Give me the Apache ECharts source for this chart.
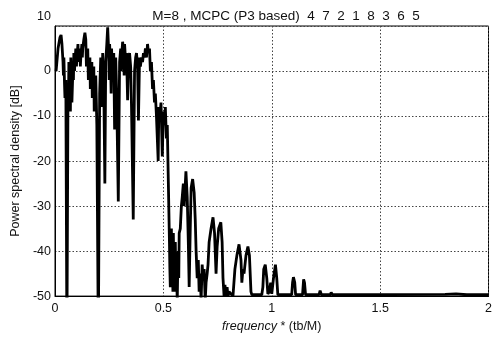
<!DOCTYPE html>
<html><head><meta charset="utf-8">
<script src="https://cdn.jsdelivr.net/npm/echarts@6/dist/echarts.min.js"></script>
<style>html,body{margin:0;padding:0;background:#fff}#c{width:495px;height:338px}</style>
</head><body><div id="c"></div>
<script>
// Title / axis text
var titleText = 'M=8 , MCPC (P3 based)  4  7  2  1  8  3  6  5';
var xTicks = [0, 0.5, 1, 1.5, 2];
var yTicks = [-50, -40, -30, -20, -10, 0, 10];

// Spectrum, band 0 - 0.5 : [frequency, dB]
var band1 = [
[0.005,0],[0.014,5],[0.023,7.5],[0.028,8],[0.032,6],[0.037,2],[0.039,-1],[0.041,3],[0.044,-3],[0.046,-6],[0.05,-2],[0.055,-60],
[0.06,-4],[0.062,-8],[0.064,2],[0.067,-5],[0.069,-3],[0.071,-9],[0.073,3],[0.078,-7],[0.083,1],[0.085,-2],[0.087,4],[0.09,0],[0.092,2],[0.096,5],[0.099,1],[0.101,3],
[0.106,6],[0.108,2],[0.11,4],[0.115,5],[0.117,1],[0.119,3],[0.124,6],[0.126,3],[0.128,5],[0.133,7],[0.138,8.5],[0.142,7],[0.145,1],[0.147,4],
[0.151,5],[0.154,-2],[0.156,2],[0.161,3],[0.163,-4],[0.165,0],[0.17,2],[0.172,-6],[0.174,-3],[0.179,1],[0.181,-9],[0.183,-6],[0.188,-1],[0.193,-12],
[0.2,-60],[0.206,-5],[0.211,3],[0.213,-4],[0.216,-8],[0.22,4],[0.225,-3],[0.23,-25],[0.234,2],[0.239,6],[0.243,9.7],
[0.248,4],[0.25,-2],[0.252,6],[0.257,0],[0.259,-5],[0.261,5],[0.266,-2],[0.271,4],[0.275,-13],[0.28,3],[0.284,-4],[0.292,-29],
[0.298,2],[0.303,5],[0.305,0],[0.307,3],[0.312,6.5],[0.317,4],[0.319,-1],[0.321,6],[0.326,2],[0.33,4],[0.335,-6.5],[0.339,3],
[0.344,4],[0.349,1],[0.353,-8],[0.361,-33],[0.367,0],[0.372,3],[0.376,4],[0.381,1],[0.385,-11],[0.39,3],
[0.394,1],[0.399,3],[0.404,2],[0.408,4],[0.413,3],[0.417,5],[0.422,3],[0.427,6],[0.431,4],[0.436,5],
[0.44,0],[0.445,2],[0.45,-4],[0.454,-2],[0.459,-7],[0.463,-5],[0.468,-10],[0.476,-20],[0.479,-8],[0.484,-10],
[0.489,-7],[0.495,-19],[0.5,-9]
];
// Spectrum, band 0.5 - 1
var band2 = [
[0.505,-12],[0.509,-8],[0.514,-15],[0.518,-12],[0.523,-25],[0.528,-38],[0.53,-44],[0.532,-48],[0.535,-37],[0.537,-35],[0.539,-46],[0.541,-42],
[0.544,-49],[0.546,-36],[0.548,-44],[0.55,-49],[0.553,-40],[0.555,-38],[0.558,-47],[0.56,-44],[0.564,-51],[0.567,-42],[0.569,-40],[0.571,-46],[0.573,-36],[0.578,-35],[0.583,-30],
[0.587,-28],[0.592,-25],[0.596,-30],[0.604,-22.3],[0.61,-28],[0.615,-38],[0.619,-48],[0.624,-35],[0.628,-26],
[0.635,-24],[0.642,-27],[0.647,-33],[0.651,-40],[0.656,-46],[0.661,-42],[0.665,-49],[0.67,-45],[0.674,-51],
[0.679,-43],[0.683,-46],[0.688,-44],[0.693,-51],[0.697,-47],[0.702,-45],[0.706,-43],[0.711,-38],[0.72,-35],
[0.729,-32.5],[0.736,-36],[0.743,-45],[0.748,-39],[0.755,-35],[0.765,-33.6],[0.771,-38],[0.775,-46],[0.78,-50],
[0.784,-47.5],[0.789,-50],[0.794,-48],[0.798,-50],[0.803,-49],[0.812,-49.5],[0.821,-50],[0.83,-44],[0.839,-41],
[0.849,-38.5],[0.858,-42],[0.862,-47],[0.867,-44],[0.872,-45],[0.881,-41],[0.89,-39],[0.897,-41],[0.904,-49],
[0.908,-49.7],[0.954,-49.7],[0.959,-48],[0.963,-44],[0.97,-43],[0.977,-46],[0.982,-49.5],[0.989,-49],[0.995,-47]
];
// Spectrum, tail 1 - 2
var tail = [
[1.0,-49.5],[1.008,-46],[1.017,-43],[1.023,-46],[1.028,-49.7],[1.092,-49.7],[1.096,-47],[1.1,-45.8],[1.106,-47],
[1.11,-49.7],[1.142,-49.7],[1.147,-46.3],[1.151,-47],[1.156,-49.7],[1.218,-49.7],[1.223,-48.8],[1.229,-49.7],
[1.271,-49.7],[1.274,-49.2],[1.28,-49.7],[1.8,-49.6],[1.85,-49.5],[1.9,-49.7],[2.0,-49.7]
];

var chart = echarts.init(document.getElementById('c'), null, {renderer: 'canvas'});
var font = 'Liberation Sans, Arial, sans-serif';
chart.setOption({
  animation: false,
  backgroundColor: '#fff',
  title: {
    text: titleText, left: 281, top: 4, textAlign: 'center',
    textStyle: {fontFamily: font, fontSize: 13.5, fontWeight: 'normal', color: '#111'}
  },
  grid: {left: 55, right: 4, top: 26, bottom: 41, show: true, borderColor: '#000', borderWidth: 1},
  xAxis: {
    type: 'value', min: 0, max: 2, interval: 0.5,
    name: '{i|frequency} * (tb/M)', nameLocation: 'middle', nameGap: 20,
    nameTextStyle: {fontFamily: font, fontSize: 12.5, color: '#111',
      rich: {i: {fontFamily: font, fontSize: 12.5, fontStyle: 'italic', color: '#111'}}},
    axisLine: {show: true, onZero: false, lineStyle: {color: '#000'}},
    axisTick: {show: false},
    axisLabel: {fontFamily: font, fontSize: 12.5, color: '#111', margin: 6,
      formatter: function (v) { return xTicks.indexOf(v) >= 0 ? String(v) : ''; }},
    splitLine: {show: true, lineStyle: {type: [1.5, 2], color: '#444', width: 1}}
  },
  yAxis: {
    type: 'value', min: -50, max: 10, interval: 10,
    name: 'Power spectral density [dB]', nameLocation: 'middle', nameGap: 28,
    nameTextStyle: {fontFamily: font, fontSize: 12.5, color: '#111'},
    axisLine: {show: true, onZero: false, lineStyle: {color: '#000'}},
    axisTick: {show: false},
    axisLabel: {fontFamily: font, fontSize: 12.5, color: '#111', margin: 4,
      formatter: function (v) { return v === 10 ? '{t|10}' : (yTicks.indexOf(v) >= 0 ? String(v) : ''); },
      rich: {t: {fontFamily: font, fontSize: 12.5, color: '#111', padding: [0, 0, 18, 0]}}},
    splitLine: {show: true, lineStyle: {type: [1.5, 2], color: '#444', width: 1}}
  },
  series: [{
    type: 'line', data: band1.concat(band2, tail), showSymbol: false, symbol: 'none',
    clip: true, lineStyle: {color: '#000', width: 2.8}, itemStyle: {color: '#000'}
  }]
});
</script></body></html>
